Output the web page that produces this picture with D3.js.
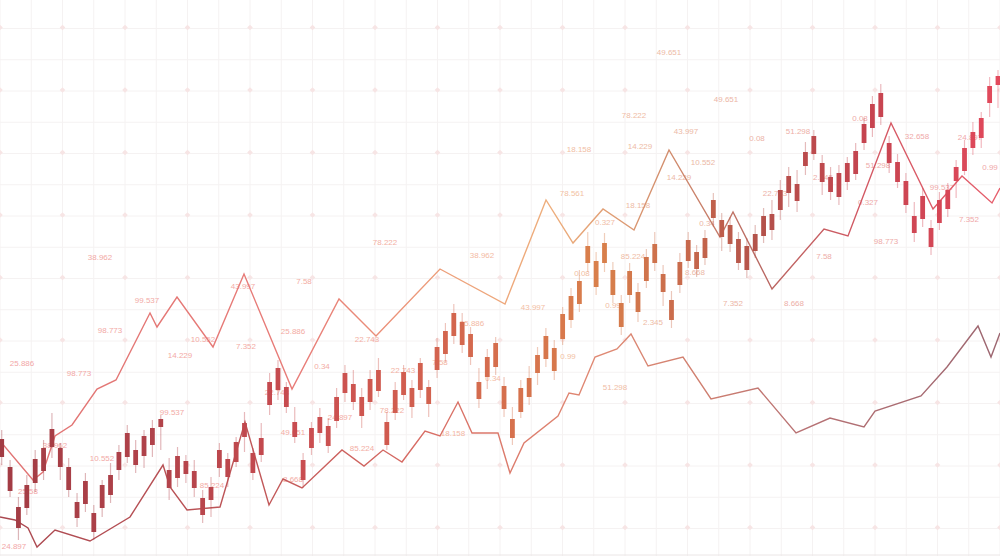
<!DOCTYPE html>
<html><head><meta charset="utf-8">
<script src="https://cdn.jsdelivr.net/npm/d3@7"></script>
<style>html,body{margin:0;padding:0;background:#fff;overflow:hidden}svg{display:block}</style>
</head><body><svg id="c" width="1000" height="556"></svg>
<script>
// ---- data ----
const candleHigh=[12.6,9.6,5.9,8.1,10.6,11.6,14.3,11.3,9.8,6.3, 8.3,5.1,7.6,9.3,11.1,13.1,11.6,12.6,13.6,14.1, 9.8,10.9,10.1,9.6,6.6,7.9,11.3,10.3,11.9,14.4, 10.8,13.3,18.3,19.6,17.4,14.9,10.3,13.4,14.8,13.8, 16.8,19.1,18.6,16.8,18.6,19.8,14.4,17.4,19.1,17.6, 19.8,17.6,21.8,23.3,25.2,24.3,22.9,18.8,20.7,21.9, 17.9,14.9,17.6,19.0,20.9,22.8,21.6,24.9,26.8,28.6, 32.4,30.4,32.3,29.4,26.1,29.3,27.3,30.7,32.4,29.1, 26.5,30.3,32.4,31.1,32.6,36.3,34.3,33.9,32.4,31.8, 33.1,34.8,35.6,37.6,38.9,38.6,41.4,42.6,40.1,38.9, 39.1,39.9,41.3,43.8,46.0,47.2,42.0,40.2,38.3,35.4, 36.8,33.6,36.4,37.3,39.6,41.6,43.4,44.4,47.9,48.6];
const candleClose=[11.7,8.9,4.9,7.1,9.7,10.8,12.7,10.8,8.9,5.4, 7.5,4.3,7.1,8.1,10.4,12.3,10.6,12.0,12.8,13.7, 8.6,10.0,9.5,8.5,5.8,6.9,10.6,9.7,11.4,13.3, 10.3,11.8,17.4,18.8,16.9,13.4,9.6,12.8,13.9,13.0, 15.9,18.3,17.2,15.9,17.7,18.6,13.4,16.6,18.4,16.8, 19.3,16.9,20.9,22.5,24.3,23.4,22.2,17.4,19.9,21.3, 17.0,13.7,16.8,17.8,20.1,22.0,20.8,24.2,26.0,27.5, 31.0,29.5,31.3,28.6,25.3,28.5,26.4,29.9,31.2,28.2, 25.6,29.4,31.6,30.4,31.8,35.6,33.6,33.1,31.7,31.0, 32.2,34.0,34.2,36.6,38.0,37.2,40.4,42.0,39.3,37.9, 38.3,39.3,40.5,43.2,45.2,46.3,41.3,39.4,37.5,34.0, 36.0,32.8,35.6,36.6,38.9,40.8,42.4,43.8,47.0,48.0];
const candleOpen=[9.9,6.5,2.8,4.8,7.3,8.5,10.9,8.9,6.6,3.8, 5.2,2.4,4.8,6.1,8.6,9.9,9.1,10.0,11.1,12.9, 6.8,7.8,8.2,6.8,4.1,5.6,8.8,7.9,9.4,11.9, 8.3,10.1,15.1,16.6,14.9,11.9,7.6,10.8,12.3,11.0, 13.5,16.3,15.4,14.0,15.4,16.5,11.1,14.3,16.1,14.9, 16.6,15.2,18.6,20.2,22.0,21.1,19.9,15.7,17.9,18.9, 14.7,11.8,14.4,15.9,18.3,19.7,18.5,21.7,23.6,25.2, 29.3,26.9,29.3,26.1,22.9,26.1,24.4,27.5,29.3,26.4, 23.6,27.1,29.5,28.7,29.8,33.8,31.9,31.2,29.3,28.6, 30.5,32.0,32.6,34.6,36.3,35.5,39.0,40.2,37.4,36.4, 35.9,37.4,38.2,41.3,42.8,43.9,39.3,37.4,35.1,32.3, 33.7,30.9,33.3,34.7,37.5,38.5,40.8,41.8,45.3,47.1];
const candleLow=[9.1,5.9,1.6,4.1,6.4,7.6,9.8,7.6,5.9,2.9, 4.4,1.6,3.9,5.3,7.6,9.3,8.3,8.8,9.9,10.6, 5.6,6.9,7.3,5.9,3.3,3.9,7.9,6.9,8.9,10.4, 7.6,9.4,14.1,15.6,14.3,11.3,6.8,10.1,11.3,10.3, 12.8,15.4,14.6,12.8,14.6,15.9,10.6,13.6,15.6,13.8, 15.8,13.9,17.8,19.4,21.2,20.3,19.1,14.8,16.7,18.1, 13.9,11.1,13.8,15.1,17.1,18.9,17.6,21.1,22.8,24.4, 28.4,26.1,28.4,25.3,22.1,25.3,23.4,26.8,28.5,25.0, 22.8,26.3,28.8,27.9,29.1,32.9,30.5,30.4,28.6,27.8, 29.8,31.3,31.6,33.6,34.9,34.4,38.1,39.6,36.1,35.6, 35.1,36.6,37.6,40.6,41.9,43.1,38.3,36.8,34.3,31.4, 32.9,30.1,32.6,33.9,35.8,38.1,40.1,40.8,43.9,44.8];

const upperT=[0,3.3,4.3,5.5,7.2,9.7,11.6,15.0,15.7,17.7,21.3,24.4,29.2,33.9,37.6,44.0,50.5,54.6,57.3,60.3,63.4,66.9,72.0,73.3,77.2,82.4,84.8,89.1,93.3,96.2,99.2,100];
const upperV=[11.5,7.6,8.4,12.0,13.1,16.7,17.6,24.3,22.9,25.9,20.9,28.2,16.7,25.7,22.0,28.7,25.2,35.6,31.3,34.7,32.6,40.6,31.9,34.4,26.7,32.7,32.0,43.3,34.7,38.0,35.3,36.8];
const lowerT=[0,1.5,2.8,3.7,5.5,9.0,13.0,16.3,17.0,18.7,22.0,24.5,26.9,28.3,30.2,34.2,36.4,38.3,40.2,42.5,44.0,45.8,47.2,49.8,51.0,52.4,55.8,56.9,57.9,59.5,61.7,63.1,64.8,68.3,71.1,75.8,79.6,83.0,86.4,87.5,92.1,94.7,97.8,99.1,100];
const lowerV=[3.9,3.6,2.8,0.9,2.6,1.5,3.9,9.1,6.9,4.6,4.9,13.4,5.1,7.7,6.8,10.6,9.0,10.6,9.4,12.5,12.0,15.4,12.3,12.3,8.3,11.3,14.0,16.3,16.1,19.9,20.7,22.2,19.0,19.9,15.7,16.8,12.3,13.8,12.9,14.5,16.0,18.9,23.0,19.9,22.3];

const labelText=["38.962","99.537","98.773","14.229","10.552","43.997","7.352","7.58","25.886","0.34","98.773","25.886","22.743","99.537","10.552","38.962","25.58","24.897","85.224","49.651","8.668","22.743","22.743","7.58","25.886","43.997","0.99","0.34","24.897","78.222","85.224","18.158","78.561","18.158","0.327","0.34","85.224","0.08","8.668","0.99","7.352","2.345","8.668","22.743","14.229","49.651","49.651","78.222","43.997","18.158","14.229","10.552","0.08","51.298","0.08","2.345","51.298","32.658","0.327","98.773","7.58","99.537","7.352","24.897","0.99","51.298","38.962","78.222"];
const labelT=[10.0,14.7,11.0,18.0,20.3,24.3,24.6,30.4,29.3,32.2,7.9,2.2,27.7,17.2,10.2,5.5,2.8,1.4,21.2,29.3,29.3,36.7,40.3,44.0,47.2,53.3,56.8,49.3,34.0,39.2,36.2,45.3,57.2,63.8,60.5,70.7,63.3,58.2,69.5,61.3,73.3,65.3,79.4,77.5,67.9,66.9,72.6,63.4,68.6,57.9,64.0,70.3,75.7,79.8,86.0,82.3,87.8,91.7,86.8,88.6,82.4,94.2,96.9,97.0,99.0,61.5,48.2,38.5];
const labelV=[29.8,25.5,22.5,20.0,21.6,26.9,20.9,27.4,22.4,18.9,18.2,19.2,16.3,14.3,9.7,11.0,6.4,0.9,7.0,12.3,7.6,21.6,18.5,19.3,23.2,24.8,19.9,17.7,13.8,14.5,10.7,12.2,36.2,35.0,33.3,33.2,29.9,28.2,28.3,25.0,25.2,23.3,25.2,36.2,37.8,50.3,45.6,44.0,42.4,40.6,40.9,39.3,41.7,42.4,43.7,37.8,39.0,41.9,35.3,31.4,29.9,36.8,33.6,41.8,38.8,16.8,30.0,31.3];

// ---- scales ----
const W=1000,H=556;
const svg=d3.select("#c");
const y=d3.scaleLinear().domain([0,55.6]).range([H,0]);
const xc=d3.scaleLinear().domain([1,120]).range([1.7,998]);
const xt=d3.scaleLinear().domain([0,100]).range([0,W]);

const candleColor=d3.scaleLinear()
  .domain([0,150,300,420,520,600,680,760,860,1000])
  .range(["#a23c44","#b0424a","#c94c50","#d2604f","#d6724d","#d9804b","#c96b4c","#b3514a","#c4444f","#e2495c"]);
const labelColor=d3.scaleLinear()
  .domain([0,350,550,700,850,1000])
  .range(["#f2a7a7","#f3ada4","#f3c0a4","#ebb8a6","#eeaaa8","#f0a8aa"]);

// ---- grid ----
const grid=svg.append("g");
const gx=d3.range(0,101,3.125), gy=d3.range(-0.375,56,3.125);
grid.selectAll("line.v").data(gx).join("line")
  .attr("x1",d=>xt(d)).attr("x2",d=>xt(d)).attr("y1",0).attr("y2",H)
  .attr("stroke","#f5f2f2").attr("stroke-width",1);
grid.selectAll("line.h").data(gy).join("line")
  .attr("x1",0).attr("x2",W).attr("y1",d=>y(d)).attr("y2",d=>y(d))
  .attr("stroke","#f5f2f2").attr("stroke-width",1);
const dots=[];
d3.range(0,101,6.25).forEach(a=>d3.range(52.85,0,-6.25).forEach(b=>dots.push([a,b])));
grid.selectAll("rect.dot").data(dots).join("rect")
  .attr("x",-2).attr("y",-2).attr("width",4).attr("height",4)
  .attr("transform",d=>`translate(${xt(d[0])},${y(d[1])}) rotate(45)`)
  .attr("fill","#f7e5e5");
grid.append("line").attr("x1",0).attr("x2",W).attr("y1",y(0.1)).attr("y2",y(0.1))
  .attr("stroke","#ebe6e6").attr("stroke-width",1);

// ---- labels ----
svg.append("g").selectAll("text").data(labelText).join("text")
  .attr("x",(d,i)=>xt(labelT[i])).attr("y",(d,i)=>y(labelV[i]))
  .attr("text-anchor","middle").attr("dominant-baseline","middle")
  .attr("font-family","'Liberation Sans',Arial,sans-serif").attr("font-size",8)
  .attr("fill",(d,i)=>labelColor(xt(labelT[i])))
  .text(d=>d);

// ---- line gradients ----
const defs=svg.append("defs");
function grad(id,stops){
  const g=defs.append("linearGradient").attr("id",id).attr("gradientUnits","userSpaceOnUse")
    .attr("x1",0).attr("x2",W).attr("y1",0).attr("y2",0);
  stops.forEach(s=>g.append("stop").attr("offset",s[0]).attr("stop-color",s[1]));
}
grad("gUp",[[0,"#e07373"],[0.3,"#e87c78"],[0.45,"#eda07a"],[0.55,"#eeae7c"],[0.66,"#d4906e"],[0.76,"#b86862"],[0.86,"#d25863"],[1,"#e65e6c"]]);
grad("gLo",[[0,"#aa4850"],[0.25,"#bf5658"],[0.42,"#d86c64"],[0.6,"#e08a74"],[0.7,"#d08070"],[0.8,"#b87274"],[1,"#9c6670"]]);

const line=d3.line().x(d=>xt(d[0])).y(d=>y(d[1]));
svg.append("path").datum(upperT.map((t,i)=>[t,upperV[i]])).attr("d",line)
  .attr("fill","none").attr("stroke","url(#gUp)").attr("stroke-width",1.4).attr("stroke-linejoin","miter");
svg.append("path").datum(lowerT.map((t,i)=>[t,lowerV[i]])).attr("d",line)
  .attr("fill","none").attr("stroke","url(#gLo)").attr("stroke-width",1.4).attr("stroke-linejoin","miter");

// ---- candles ----
const idx=d3.range(120);
const cg=svg.append("g");
cg.selectAll("line.w").data(idx).join("line")
  .attr("x1",i=>xc(i+1)).attr("x2",i=>xc(i+1))
  .attr("y1",i=>y(candleHigh[i])).attr("y2",i=>y(candleLow[i]))
  .attr("stroke",i=>candleColor(xc(i+1))).attr("stroke-opacity",0.38).attr("stroke-width",1.2);
const bw=4.8;
cg.selectAll("rect.b").data(idx).join("rect")
  .attr("x",i=>xc(i+1)-bw/2).attr("width",bw)
  .attr("y",i=>y(Math.max(candleOpen[i],candleClose[i])))
  .attr("height",i=>Math.abs(y(candleOpen[i])-y(candleClose[i])))
  .attr("fill",i=>candleColor(xc(i+1)));
</script></body></html>
